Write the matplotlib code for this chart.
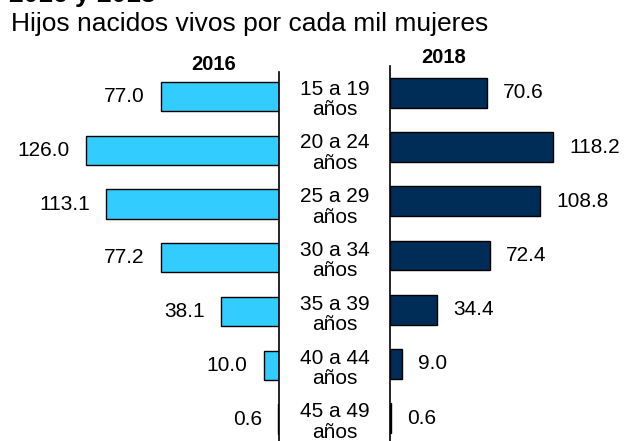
import matplotlib
matplotlib.use("Agg")
import matplotlib.pyplot as plt

plt.rcParams["font.family"] = ["Liberation Sans", "DejaVu Sans"]

edades = ["15 a 19\naños", "20 a 24\naños", "25 a 29\naños", "30 a 34\naños",
          "35 a 39\naños", "40 a 44\naños", "45 a 49\naños"]
tasa_2016 = [77.0, 126.0, 113.1, 77.2, 38.1, 10.0, 0.6]
tasa_2018 = [70.6, 118.2, 108.8, 72.4, 34.4, 9.0, 0.6]

W, H = 624, 441
fig = plt.figure(figsize=(W / 100, H / 100), dpi=100)


def box(x0, y0, x1, y1):
    # pixel box (top-left origin) -> figure fraction
    return [x0 / W, 1 - y1 / H, (x1 - x0) / W, (y1 - y0) / H]


# left panel 2016, zero at x=279, 1.532 px per unit
axl = fig.add_axes(box(5, 72, 279, 441))
axl.barh(range(7), tasa_2016, height=0.54, color="#33CCFF", edgecolor="black", linewidth=1)
axl.set_xlim(274 / 1.532, 0)
axl.set_ylim((441 - 96.5) / 53.75, (72 - 96.5) / 53.75)
for i, v in enumerate(tasa_2016):
    axl.annotate(f"{v:.1f}", xy=(v, i), xytext=(-11.5, 0), textcoords="offset points",
                 ha="right", va="center", fontsize=15)

# right panel 2018, zero at x=390, 1.379 px per unit
axr = fig.add_axes(box(390, 66, 620, 441))
axr.barh(range(7), tasa_2018, height=0.55, color="#002D57", edgecolor="black", linewidth=1)
axr.set_xlim(0, 230 / 1.379)
axr.set_ylim((441 - 93) / 54.17, (66 - 93) / 54.17)
for i, v in enumerate(tasa_2018):
    axr.annotate(f"{v:.1f}", xy=(v, i), xytext=(11.5, 0), textcoords="offset points",
                 ha="left", va="center", fontsize=15)

for ax, side in [(axl, "right"), (axr, "left")]:
    for s in ax.spines:
        ax.spines[s].set_visible(s == side)
    ax.spines[side].set_linewidth(1.2)
    ax.set_xticks([])
    ax.set_yticks([])
    ax.patch.set_alpha(0)

# age group labels between the panels
for i, lab in enumerate(edades):
    yc = 99.5 + 53.75 * i
    fig.text(334.5 / W, 1 - yc / H, lab, ha="center", va="center",
             fontsize=15, linespacing=1.1)

fig.text(213.5 / W, 1 - 64.5 / H, "2016", ha="center", va="center", fontsize=14.5, fontweight="bold")
fig.text(444 / W, 1 - 57.5 / H, "2018", ha="center", va="center", fontsize=14.5, fontweight="bold")

fig.text(9 / W, 1 - 2 / H, "2016 y 2018", ha="left", va="baseline", fontsize=19, fontweight="bold")
fig.text(11 / W, 1 - 31.5 / H, "Hijos nacidos vivos por cada mil mujeres", ha="left",
         va="baseline", fontsize=19)

fig.savefig("out.png", dpi=100)
